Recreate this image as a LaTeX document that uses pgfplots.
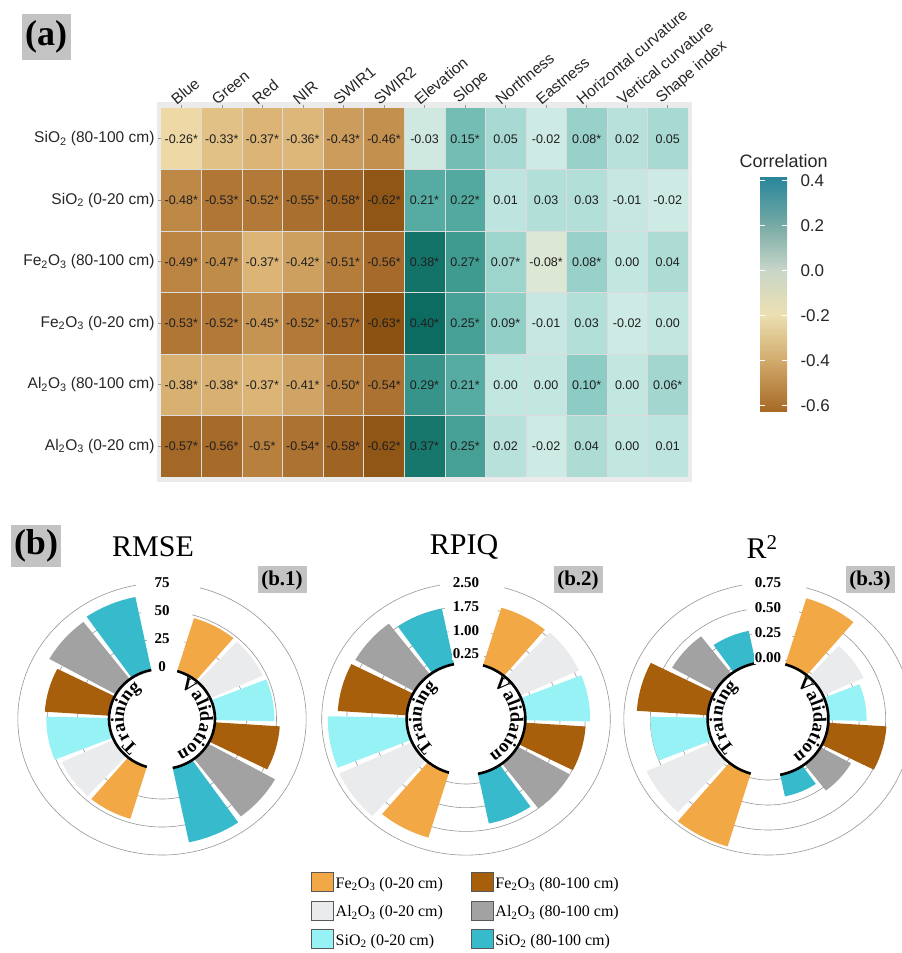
\documentclass[border=0pt]{standalone}
\usepackage{fontspec}
\setmainfont{Liberation Serif}
\setsansfont{Liberation Sans}
\usepackage{pgfplots}
\pgfplotsset{compat=1.18}
\usepackage{pgfplotstable}
\usetikzlibrary{decorations.text}

\definecolor{cFeA}{RGB}{243,168,70}
\definecolor{cAlA}{RGB}{234,235,236}
\definecolor{cSiA}{RGB}{150,242,245}
\definecolor{cFeB}{RGB}{168,95,12}
\definecolor{cAlB}{RGB}{162,162,162}
\definecolor{cSiB}{RGB}{54,186,204}
\definecolor{panelbg}{RGB}{235,235,235}
\definecolor{boxgray}{RGB}{195,195,195}
\definecolor{gridc}{RGB}{150,150,150}
\definecolor{cb1}{RGB}{166,104,36}
\definecolor{cb2}{RGB}{210,172,110}
\definecolor{cb3}{RGB}{236,224,178}
\definecolor{cb4}{RGB}{200,214,200}
\definecolor{cb5}{RGB}{118,170,165}
\definecolor{cb6}{RGB}{42,134,155}

\pgfplotstableread{
x y v lab
0 0 -0.26 -0.26*
1 0 -0.33 -0.33*
2 0 -0.37 -0.37*
3 0 -0.36 -0.36*
4 0 -0.43 -0.43*
5 0 -0.46 -0.46*
6 0 -0.03 -0.03
7 0 0.15 0.15*
8 0 0.05 0.05
9 0 -0.02 -0.02
10 0 0.08 0.08*
11 0 0.02 0.02
12 0 0.05 0.05
0 1 -0.48 -0.48*
1 1 -0.53 -0.53*
2 1 -0.52 -0.52*
3 1 -0.55 -0.55*
4 1 -0.58 -0.58*
5 1 -0.62 -0.62*
6 1 0.21 0.21*
7 1 0.22 0.22*
8 1 0.01 0.01
9 1 0.03 0.03
10 1 0.03 0.03
11 1 -0.01 -0.01
12 1 -0.02 -0.02
0 2 -0.49 -0.49*
1 2 -0.47 -0.47*
2 2 -0.37 -0.37*
3 2 -0.42 -0.42*
4 2 -0.51 -0.51*
5 2 -0.56 -0.56*
6 2 0.38 0.38*
7 2 0.27 0.27*
8 2 0.07 0.07*
9 2 -0.08 -0.08*
10 2 0.08 0.08*
11 2 0.00 0.00
12 2 0.04 0.04
0 3 -0.53 -0.53*
1 3 -0.52 -0.52*
2 3 -0.45 -0.45*
3 3 -0.52 -0.52*
4 3 -0.57 -0.57*
5 3 -0.63 -0.63*
6 3 0.40 0.40*
7 3 0.25 0.25*
8 3 0.09 0.09*
9 3 -0.01 -0.01
10 3 0.03 0.03
11 3 -0.02 -0.02
12 3 0.00 0.00
0 4 -0.38 -0.38*
1 4 -0.38 -0.38*
2 4 -0.37 -0.37*
3 4 -0.41 -0.41*
4 4 -0.50 -0.50*
5 4 -0.54 -0.54*
6 4 0.29 0.29*
7 4 0.21 0.21*
8 4 0.00 0.00
9 4 0.00 0.00
10 4 0.10 0.10*
11 4 0.00 0.00
12 4 0.06 0.06*
0 5 -0.57 -0.57*
1 5 -0.56 -0.56*
2 5 -0.50 -0.5*
3 5 -0.54 -0.54*
4 5 -0.58 -0.58*
5 5 -0.62 -0.62*
6 5 0.37 0.37*
7 5 0.25 0.25*
8 5 0.02 0.02
9 5 -0.02 -0.02
10 5 0.04 0.04
11 5 0.00 0.00
12 5 0.01 0.01
}\heat

% slot 1-6: Validation, slot 8-13: Training
\pgfplotstableread{
slot col rmse rpiq rtwo
1 cFeA 47.6 1.87 0.65
2 cAlA 47.0 1.90 0.38
3 cSiA 48.2 1.90 0.32
4 cFeB 53.0 1.77 0.51
5 cAlB 63.0 1.75 0.29
6 cSiB 66.0 1.57 0.18
8 cFeA 46.6 2.11 0.72
9 cAlA 46.4 2.35 0.65
10 cSiA 51.0 2.32 0.50
11 cFeB 52.5 2.03 0.63
12 cAlB 62.6 1.99 0.43
13 cSiB 64.8 1.76 0.29
}\bdata

\def\barrot{2.5}
\def\sx{1.06}

\newcommand\polarwedge[4]{%
  \gdef\wcoords{}%
  \foreach \j in {0,...,8}{%
    \pgfmathsetmacro\wang{90-#1+11.57-\j*2.8925}%
    \xdef\wcoords{\wcoords(\wang,#3) }}%
  \foreach \j in {8,...,0}{%
    \pgfmathsetmacro\wang{90-#1+11.57-\j*2.8925}%
    \xdef\wcoords{\wcoords(\wang,#2) }}%
  \edef\tmp{\noexpand\addplot[fill=#4,draw=none,data cs=polar,forget plot] coordinates {\wcoords};}%
  \tmp}

% #1 column, #2 inner radius, #3 radius of value 0, #4 radius per unit
\newcommand\drawbars[4]{%
  \pgfplotsforeachungrouped \kk in {0,...,11}{%
    \pgfplotstablegetelem{\kk}{#1}\of\bdata \let\bval\pgfplotsretval
    \pgfplotstablegetelem{\kk}{slot}\of\bdata \let\bslot\pgfplotsretval
    \pgfplotstablegetelem{\kk}{col}\of\bdata \let\bcol\pgfplotsretval
    \pgfmathsetmacro\Rout{#3+#4*\bval}%
    \pgfmathsetmacro\thc{\barrot+25.7143*\bslot}%
    \polarwedge{\thc}{#2}{\Rout}{\bcol}%
  }}

\newcommand\gridarc[1]{%
  \draw[gridc,line width=0.6pt] (axis cs:0,0) ++(74.64:#1*\sx pt and #1pt)
    arc[start angle=74.64,end angle=-259.64,x radius=#1*\sx pt,y radius=#1pt];}

\newcommand\ringdecor[2]{%
  \draw[line width=2.6pt] (axis cs:0,0) ++(73.36:#1*\sx pt and #1pt)
    arc[start angle=73.36,end angle=-78.36,x radius=#1*\sx pt,y radius=#1pt];
  \draw[line width=2.6pt] (axis cs:0,0) ++(-106.64:#1*\sx pt and #1pt)
    arc[start angle=-106.64,end angle=-258.36,x radius=#1*\sx pt,y radius=#1pt];
  \path[decorate,decoration={text along path,text align=center,
      text={|\bfseries\fontsize{18.5}{18.5}\selectfont|Training}}]
    (axis cs:0,0) ++(-95:#2*\sx pt and #2pt)
    arc[start angle=-95,end angle=-270,x radius=#2*\sx pt,y radius=#2pt];
  \path[decorate,decoration={text along path,text align=center,
      text={|\bfseries\fontsize{18.5}{18.5}\selectfont|Validation}}]
    (axis cs:0,0) ++(85:#2*\sx pt and #2pt)
    arc[start angle=85,end angle=-90,x radius=#2*\sx pt,y radius=#2pt];}

\newcommand\rlab[2]{\node[fill=white,inner sep=1pt,font=\bfseries\fontsize{15}{15}\selectfont] at (axis cs:0,#1) {#2};}

\pgfplotsset{polarbox/.style={anchor=center,scale only axis,width=318pt,height=300pt,
  xmin=-150,xmax=150,ymin=-150,ymax=150,hide axis,clip=false}}

\begin{document}
\begin{tikzpicture}[x=1pt,y=1pt]
\path[use as bounding box] (0,0) rectangle (902,953);

% ---------- (a) heatmap ----------
\node[fill=boxgray,minimum width=49pt,minimum height=46pt,inner sep=0pt,font=\bfseries\fontsize{36}{36}\selectfont] at (46,916) {(a)};
\fill[panelbg] (157,471) rectangle (692,851);

\begin{axis}[
  at={(161pt,476pt)}, anchor=south west, scale only axis, width=527pt, height=369pt,
  xmin=-0.5, xmax=12.5, ymin=-0.5, ymax=5.5, y dir=reverse,
  axis line style={draw=none}, axis on top,
  xtick={0,...,12}, ytick={0,...,5},
  xticklabels={Blue,Green,Red,NIR,SWIR1,SWIR2,Elevation,Slope,Northness,Eastness,Horizontal curvature,Vertical curvature,Shape index},
  yticklabels={SiO\textsubscript{2} (80-100 cm),SiO\textsubscript{2} (0-20 cm),Fe\textsubscript{2}O\textsubscript{3} (80-100 cm),Fe\textsubscript{2}O\textsubscript{3} (0-20 cm),Al\textsubscript{2}O\textsubscript{3} (80-100 cm),Al\textsubscript{2}O\textsubscript{3} (0-20 cm)},
  xticklabel pos=right, xtick pos=right, ytick pos=left,
  tick align=outside, major tick length=3pt, tick style={black!40,line width=0.5pt},
  minor xtick={0.5,1.5,...,11.5}, minor ytick={0.5,1.5,...,4.5},
  minor tick length=0pt, xminorgrids, yminorgrids, minor grid style={black!14,line width=0.5pt},
  xticklabel style={rotate=40,anchor=south west,inner sep=0pt,font=\sffamily\fontsize{15.5}{15.5}\selectfont,text=black!85,xshift=-4pt,yshift=2pt},
  yticklabel style={font=\sffamily\fontsize{15.5}{15.5}\selectfont,text=black!85},
  colormap={cellmap}{rgb255(0pt)=(140,82,18); rgb255(6pt)=(163,104,40); rgb255(13pt)=(184,128,62); rgb255(18pt)=(198,148,82); rgb255(26pt)=(219,180,118); rgb255(37pt)=(238,216,165); rgb255(48pt)=(232,228,198); rgb255(55pt)=(220,231,212); rgb255(61pt)=(205,234,228); rgb255(63pt)=(194,231,225); rgb255(68pt)=(168,217,210); rgb255(73pt)=(140,204,196); rgb255(84pt)=(86,172,162); rgb255(92pt)=(55,148,138); rgb255(103pt)=(12,108,98)},
  point meta min=-0.63, point meta max=0.40,
]
\addplot[matrix plot*, mesh/cols=13, point meta=explicit, draw=none] table[x=x,y=y,meta=v] {\heat};
\addplot[draw=none, mark=none, nodes near coords, point meta=explicit symbolic,
  nodes near coords align=center,
  every node near coord/.append style={font=\sffamily\fontsize{12.5}{12.5}\selectfont,text=black!88,anchor=center}]
  table[x=x,y=y,meta=lab] {\heat};
\end{axis}

% colorbar
\node[anchor=base west,font=\sffamily\fontsize{18}{18}\selectfont,text=black!85] at (736,785) {Correlation};
\begin{axis}[
  at={(760pt,541pt)}, anchor=south west, scale only axis, width=27pt, height=234pt,
  xmin=0, xmax=1, ymin=-0.63, ymax=0.41, axis line style={draw=none}, axis on top,
  xtick=\empty, ytick={-0.6,-0.4,-0.2,0,0.2,0.4},
  yticklabels={-0.6,-0.4,-0.2,0.0,0.2,0.4},
  yticklabel pos=right, tick align=inside, major tick length=5pt,
  tick style={white,line width=0.7pt},
  yticklabel style={font=\sffamily\fontsize{17}{17}\selectfont,text=black!85,xshift=10pt},
]
\shade[bottom color=cb1,top color=cb2] (axis cs:0,-0.63) rectangle (axis cs:1,-0.395);
\shade[bottom color=cb2,top color=cb3] (axis cs:0,-0.4) rectangle (axis cs:1,-0.195);
\shade[bottom color=cb3,top color=cb4] (axis cs:0,-0.2) rectangle (axis cs:1,0.005);
\shade[bottom color=cb4,top color=cb5] (axis cs:0,0) rectangle (axis cs:1,0.205);
\shade[bottom color=cb5,top color=cb6] (axis cs:0,0.2) rectangle (axis cs:1,0.41);
\end{axis}

% ---------- (b) ----------
\node[fill=boxgray,minimum width=50pt,minimum height=42pt,inner sep=0pt,font=\bfseries\fontsize{36}{36}\selectfont] at (36,407) {(b)};
\node[font=\fontsize{30}{30}\selectfont] at (153,406) {RMSE};
\node[font=\fontsize{30}{30}\selectfont] at (464,406) {RPIQ};
\node[font=\fontsize{30}{30}\selectfont] at (762,406) {R\textsuperscript{2}};
\node[fill=boxgray,minimum width=49pt,minimum height=27pt,inner sep=0pt,font=\bfseries\fontsize{21}{21}\selectfont] at (282,373) {(b.1)};
\node[fill=boxgray,minimum width=49pt,minimum height=27pt,inner sep=0pt,font=\bfseries\fontsize{21}{21}\selectfont] at (578,373) {(b.2)};
\node[fill=boxgray,minimum width=49pt,minimum height=27pt,inner sep=0pt,font=\bfseries\fontsize{21}{21}\selectfont] at (870,373) {(b.3)};

% b.1 RMSE
\begin{axis}[polarbox, at={(162pt,234pt)}]
\gridarc{80}\gridarc{108}\gridarc{136}
\drawbars{rmse}{50}{52}{1.12}
\ringdecor{50}{36}
\rlab{52}{0}\rlab{80}{25}\rlab{108}{50}\rlab{136}{75}
\end{axis}

% b.2 RPIQ
\begin{axis}[polarbox, at={(466pt,234pt)},
  legend columns=2,
  legend style={at={(0.0126,-0.01)},anchor=north west,draw=none,fill=none,
    font=\fontsize{16}{16}\selectfont,inner sep=0pt,row sep=9pt,
    /tikz/every even column/.append style={column sep=26pt},
    cells={anchor=west}},
  legend image code/.code={\draw[#1,draw=gray!70!black,line width=0.5pt] (0pt,-8pt) rectangle (22pt,11pt);}]
\gridarc{65}\gridarc{88.7}\gridarc{112.4}\gridarc{136.1}
\drawbars{rpiq}{56}{57.1}{31.6}
\ringdecor{56}{42}
\rlab{65}{0.25}\rlab{88.7}{1.00}\rlab{112.4}{1.75}\rlab{136.1}{2.50}
\addlegendimage{fill=cFeA}\addlegendentry{Fe\textsubscript{2}O\textsubscript{3} (0-20 cm)}
\addlegendimage{fill=cFeB}\addlegendentry{Fe\textsubscript{2}O\textsubscript{3} (80-100 cm)}
\addlegendimage{fill=cAlA}\addlegendentry{Al\textsubscript{2}O\textsubscript{3} (0-20 cm)}
\addlegendimage{fill=cAlB}\addlegendentry{Al\textsubscript{2}O\textsubscript{3} (80-100 cm)}
\addlegendimage{fill=cSiA}\addlegendentry{SiO\textsubscript{2} (0-20 cm)}
\addlegendimage{fill=cSiB}\addlegendentry{SiO\textsubscript{2} (80-100 cm)}
\end{axis}

% b.3 R2
\begin{axis}[polarbox, at={(768pt,234pt)}]
\gridarc{61}\gridarc{86}\gridarc{111}\gridarc{136}
\drawbars{rtwo}{57}{61}{100}
\ringdecor{57}{43}
\rlab{61}{0.00}\rlab{86}{0.25}\rlab{111}{0.50}\rlab{136}{0.75}
\end{axis}

\end{tikzpicture}
\end{document}
